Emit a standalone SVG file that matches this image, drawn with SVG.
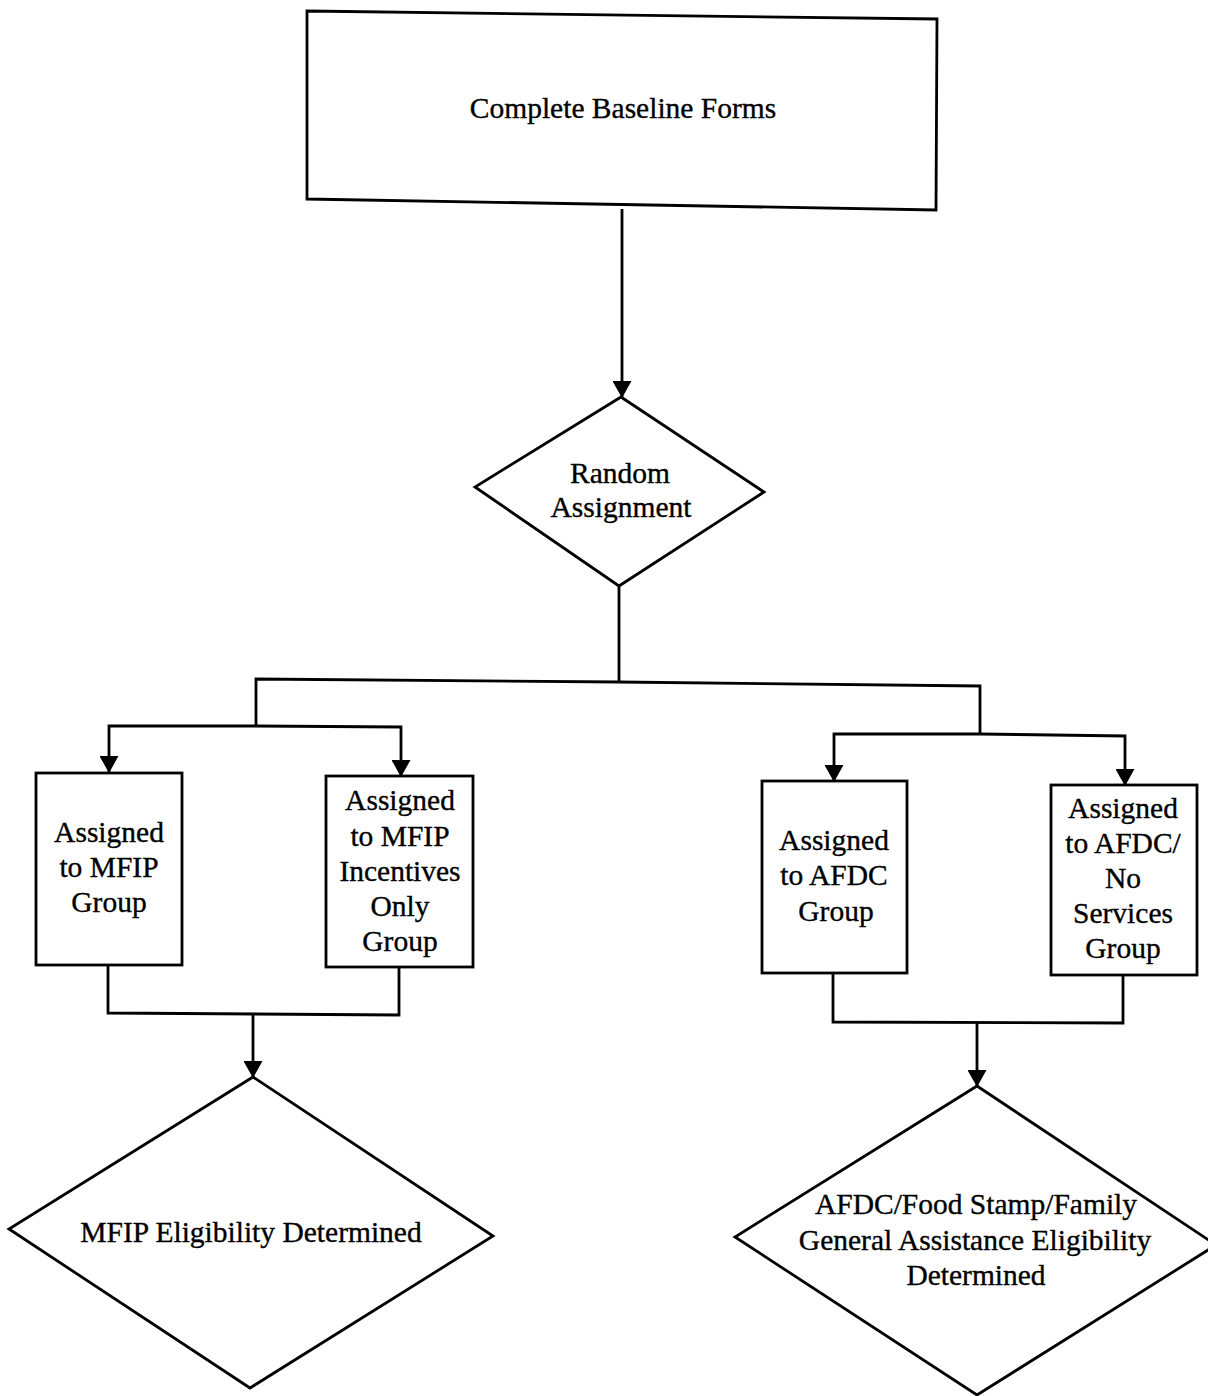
<svg xmlns="http://www.w3.org/2000/svg" width="1208" height="1396" viewBox="0 0 1208 1396">
<style>
.shape{fill:none;stroke:#000;stroke-width:2.8;stroke-linejoin:miter}
.conn{fill:none;stroke:#000;stroke-width:2.8}
.arrow{fill:none;stroke:#000;stroke-width:2.8;marker-end:url(#ah)}
text{font-family:"Liberation Serif","Times New Roman",serif;font-size:29.5px;fill:#000;stroke:#000;stroke-width:0.35;text-anchor:middle}
</style>
<defs>
<marker id="ah" viewBox="0 0 17 19" refX="16" refY="9.5" markerWidth="17" markerHeight="19" markerUnits="userSpaceOnUse" orient="auto">
<path d="M0,0 L17,9.5 L0,19 z" fill="#000"/>
</marker>
</defs>
<rect width="1208" height="1396" fill="#fff"/>

<g id="connectors">
<line class="arrow" x1="622" y1="209" x2="622" y2="397"/>
<polyline class="conn" points="619,586 619,682"/>
<polyline class="conn" points="256,725 256,679 619,682 980,686 980,734"/>
<polyline class="arrow" points="256,726 109,726 109,772"/>
<polyline class="arrow" points="256,726 401,727 401,776"/>
<polyline class="arrow" points="980,734 834,734 834,781"/>
<polyline class="arrow" points="980,734 1125,736 1125,785"/>
<polyline class="conn" points="108,966 108,1013 399,1015 399,967"/>
<line class="arrow" x1="253" y1="1014" x2="253" y2="1077"/>
<polyline class="conn" points="833,973 833,1022 1123,1023 1123,976"/>
<line class="arrow" x1="977" y1="1022" x2="977" y2="1086"/>
</g>

<g id="complete-baseline-forms">
<polygon class="shape" points="307,11 937,19 936,210 307,199"/>
<text x="623" y="118">Complete Baseline Forms</text>
</g>

<g id="random-assignment">
<polygon class="shape" points="621,397 764,492 619,586 475,487"/>
<text x="620" y="483">Random</text>
<text x="621" y="517">Assignment</text>
</g>

<g id="mfip-group">
<rect class="shape" x="36" y="773" width="146" height="192"/>
<text x="109" y="842">Assigned</text>
<text x="109" y="877">to MFIP</text>
<text x="109" y="912">Group</text>
</g>

<g id="mfip-incentives-group">
<rect class="shape" x="326" y="776" width="147" height="191"/>
<text x="400" y="810">Assigned</text>
<text x="400" y="846">to MFIP</text>
<text x="400" y="881">Incentives</text>
<text x="400" y="916">Only</text>
<text x="400" y="951">Group</text>
</g>

<g id="afdc-group">
<rect class="shape" x="762" y="781" width="145" height="192"/>
<text x="834" y="850">Assigned</text>
<text x="834" y="885">to AFDC</text>
<text x="836" y="921">Group</text>
</g>

<g id="afdc-no-services-group">
<rect class="shape" x="1051" y="785" width="146" height="190"/>
<text x="1123" y="818">Assigned</text>
<text x="1123" y="853">to AFDC/</text>
<text x="1123" y="888">No</text>
<text x="1123" y="923">Services</text>
<text x="1123" y="958">Group</text>
</g>

<g id="mfip-eligibility">
<polygon class="shape" points="253,1077 493,1236 250,1388 9,1229"/>
<text x="251" y="1242">MFIP Eligibility Determined</text>
</g>

<g id="afdc-eligibility">
<polygon class="shape" points="977,1086 1216,1245 977,1395 735,1237"/>
<text x="976" y="1214">AFDC/Food Stamp/Family</text>
<text x="975" y="1250">General Assistance Eligibility</text>
<text x="976" y="1285">Determined</text>
</g>
</svg>
